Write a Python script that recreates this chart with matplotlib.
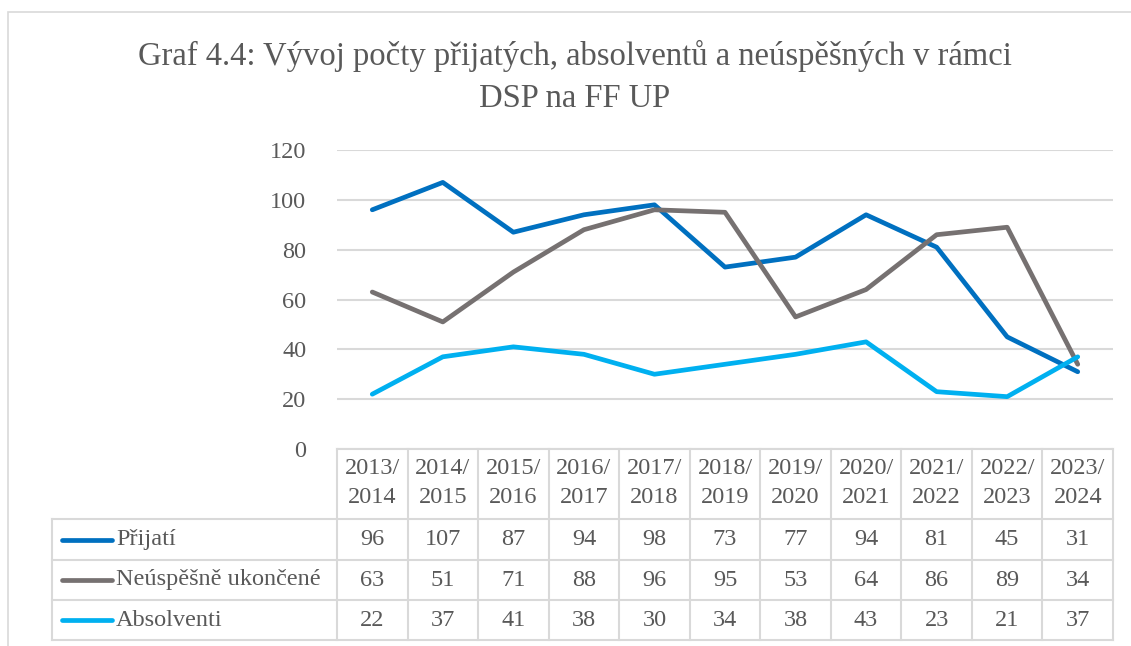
import matplotlib.pyplot as plt
import matplotlib.transforms as mtransforms
from matplotlib.patches import Rectangle

years = ["2013/\n2014", "2014/\n2015", "2015/\n2016", "2016/\n2017", "2017/\n2018",
         "2018/\n2019", "2019/\n2020", "2020/\n2021", "2021/\n2022", "2022/\n2023",
         "2023/\n2024"]
prijati = [96, 107, 87, 94, 98, 73, 77, 94, 81, 45, 31]
neuspesne = [63, 51, 71, 88, 96, 95, 53, 64, 86, 89, 34]
absolventi = [22, 37, 41, 38, 30, 34, 38, 43, 23, 21, 37]

series = [("Přijatí", prijati, "#0070C0"),
          ("Neúspěšně ukončené", neuspesne, "#767171"),
          ("Absolventi", absolventi, "#00B0F0")]

W, H = 1131, 646
txt = "#595959"
grid = "#D9D9D9"
fs = 17.5
plt.rcParams['font.family'] = ['Liberation Serif', 'DejaVu Serif']

fig = plt.figure(figsize=(W / 100, H / 100), dpi=100)


def fy(py):
    return 1 - py / H


def fx(px):
    return px / W


# outer chart frame
fig.patches.append(Rectangle((fx(8), fy(700)), fx(1300), fy(12) - fy(700),
                             transform=fig.transFigure, fill=False,
                             edgecolor=grid, lw=1.2))

ax = fig.add_axes([fx(337), fy(449), fx(1113) - fx(337), fy(150) - fy(449)])
x = list(range(len(years)))
for name, vals, col in series:
    ax.plot(x, vals, color=col, lw=3.4, solid_capstyle='round', zorder=3)

ax.set_xlim(-0.5, len(years) - 0.5)
ax.set_ylim(0, 120)
ax.set_yticks(range(0, 121, 20))
ax.yaxis.grid(True, color=grid, lw=1.5)
ax.set_axisbelow(True)
for s in ax.spines.values():
    s.set_visible(False)
ax.tick_params(axis='y', length=0, pad=22, labelsize=fs, labelcolor=txt)
ax.tick_params(axis='x', bottom=False, labelbottom=False)

fig.suptitle("Graf 4.4: Vývoj počty přijatých, absolventů a neúspěšných v rámci\nDSP na FF UP",
             x=fx(575), y=fy(40), va='top', fontsize=23.5, color=txt, linespacing=1.5)

# data table
tr = mtransforms.blended_transform_factory(ax.transData, fig.transFigure)
trf = fig.transFigure
lk = dict(color=grid, lw=1.5, clip_on=False)
row_edges = [519, 560, 600, 640]
n = len(years)
ax.plot([-0.5, n - 0.5], [fy(449)] * 2, transform=tr, **lk)
for ry in row_edges:
    ax.plot([fx(52), fx(1113)], [fy(ry)] * 2, transform=trf, **lk)
ax.plot([fx(52)] * 2, [fy(519), fy(640)], transform=trf, **lk)
for i in range(n + 1):
    ax.plot([i - 0.5] * 2, [fy(449), fy(640)], transform=tr, **lk)

for i, lab in enumerate(years):
    ax.text(i, fy(483), lab, transform=tr, ha='center', va='center',
            fontsize=fs, color=txt, linespacing=1.5)

for r, (name, vals, col) in enumerate(series):
    yc = fy((row_edges[r] + row_edges[r + 1]) / 2)
    ax.plot([fx(62), fx(112)], [yc, yc], transform=trf, color=col, lw=3.4,
            solid_capstyle='round', clip_on=False)
    ax.text(fx(116), yc, name, transform=trf, ha='left', va='center',
            fontsize=fs, color=txt)
    for i, v in enumerate(vals):
        ax.text(i, yc, str(v), transform=tr, ha='center', va='center',
                fontsize=fs, color=txt)

fig.savefig("out.png", dpi=100)
